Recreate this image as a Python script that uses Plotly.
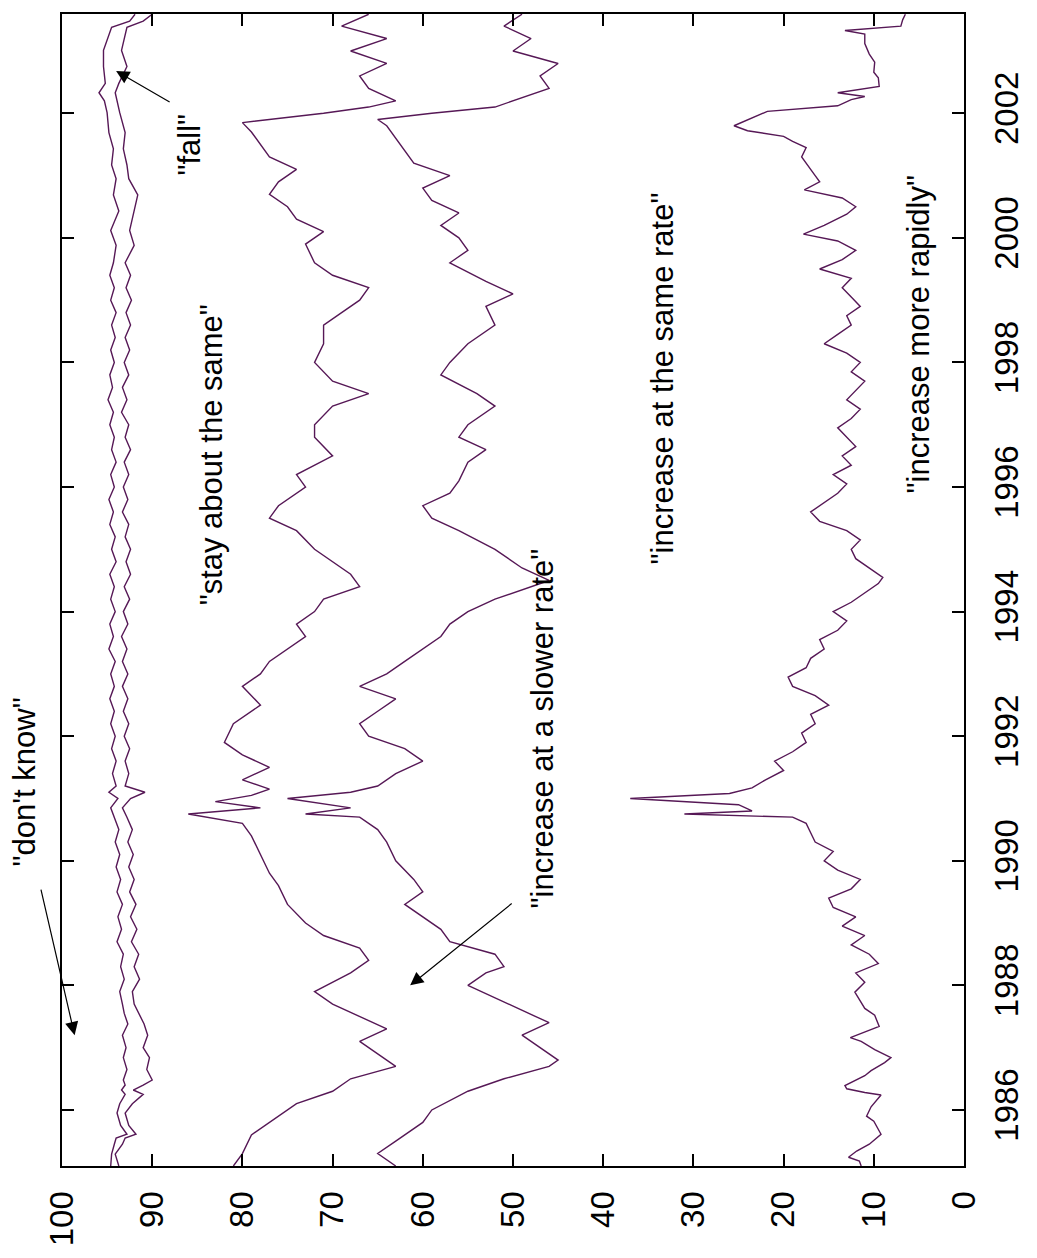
import plotly.graph_objects as go

# ---- data (value in percent, time in decimal years) ----
rapid_t = [1985.10,1985.18,1985.24,1985.34,1985.45,1985.61,1985.82,1985.90,1986.05,1986.24,1986.28,1986.34,1986.39,
           1986.55,1986.63,1986.76,1986.84,1986.97,1987.10,1987.16,1987.34,1987.52,1987.63,1987.89,
           1988.05,1988.20,1988.35,1988.50,1988.65,1988.80,1988.95,
           1989.10,1989.25,1989.40,1989.55,1989.70,1989.85,1990.00,1990.15,1990.30,1990.45,1990.60,1990.70,1990.75,1990.80,
           1990.90,1991.00,1991.08,1991.17,1991.30,1991.45,1991.60,1991.75,1991.90,1992.05,1992.20,1992.35,1992.50,1992.65,
           1992.80,1992.95,1993.10,1993.25,1993.40,1993.55,1993.70,1993.85,1994.00,1994.15,1994.30,1994.45,1994.55,1994.70,
           1994.85,1995.00,1995.15,1995.30,1995.45,1995.60,1995.75,1995.90,1996.05,1996.20,1996.35,1996.50,1996.65,1996.80,
           1996.95,1997.10,1997.25,1997.40,1997.55,1997.70,1997.85,1998.00,1998.15,1998.30,1998.45,1998.60,1998.75,1998.90,
           1999.05,1999.20,1999.35,1999.50,1999.65,1999.80,1999.95,2000.06,2000.20,2000.38,2000.50,2000.64,2000.77,2000.90,
           2001.00,2001.12,2001.30,2001.45,2001.55,2001.63,2001.72,2001.80,2001.95,2002.03,2002.12,2002.22,2002.27,2002.33,
           2002.43,2002.57,2002.66,2002.82,2002.95,2003.12,2003.27,2003.33,2003.40,2003.50,2003.59]
rapid_v = [11.4,11.6,12.8,11.9,10.5,9.2,10.0,10.8,10.3,9.2,11.0,13.0,13.2,
           11.0,10.3,8.8,8.1,9.9,11.4,12.6,9.4,9.9,11.0,12.1,
           11.0,12.0,9.5,10.5,12.5,11.0,13.5,
           12.0,14.5,15.0,12.5,11.5,14.0,15.5,14.5,16.5,17.0,17.5,19.0,31.0,23.5,
           25.0,37.0,26.0,23.5,22.0,20.0,21.0,19.0,17.5,18.0,16.5,17.0,15.0,16.5,
           19.0,19.5,17.5,17.0,15.5,16.0,14.0,13.0,14.5,12.5,11.0,9.5,9.0,10.5,
           12.0,12.5,11.5,13.0,16.0,17.0,15.5,14.0,13.0,14.5,12.5,13.5,12.0,13.0,
           14.0,12.5,11.5,13.0,12.0,11.0,12.5,11.5,13.0,15.5,14.0,12.5,13.0,11.5,
           12.5,13.5,12.5,16.0,13.5,12.0,14.0,17.8,15.5,13.0,12.0,13.5,17.7,16.0,
           16.5,17.1,18.0,17.5,19.0,20.0,24.0,25.5,23.0,21.8,14.0,12.5,11.0,14.0,
           9.4,9.5,10.0,9.9,10.5,11.0,11.0,13.2,7.0,6.8,6.5]

same_t = [1985.10,1985.30,1985.50,1985.80,1986.00,1986.30,1986.50,1986.70,1986.80,1987.00,1987.20,1987.40,1987.60,1987.80,
          1988.00,1988.20,1988.30,1988.50,1988.70,1988.90,1989.10,1989.30,1989.50,1989.70,1990.00,1990.30,1990.50,1990.70,
          1990.75,1990.85,1991.00,1991.10,1991.20,1991.40,1991.60,1991.80,1992.00,1992.20,1992.40,1992.60,1992.80,1993.00,
          1993.20,1993.40,1993.60,1993.80,1994.00,1994.20,1994.40,1994.50,1994.70,1995.00,1995.30,1995.50,1995.70,1995.90,
          1996.10,1996.40,1996.60,1996.80,1997.00,1997.30,1997.50,1997.80,1998.00,1998.30,1998.60,1998.90,1999.10,1999.30,
          1999.60,1999.80,2000.00,2000.20,2000.40,2000.60,2000.80,2001.00,2001.20,2001.40,2001.60,2001.80,2001.90,2002.00,
          2002.10,2002.20,2002.40,2002.60,2002.80,2003.00,2003.20,2003.40,2003.59]
same_v = [63,65,63,60,59,55,51,46,45,47,49,46,49,52,
          55,53,51,52,57,58,60,62,60,61,63,64,65,67,
          73,68,75,68,65,63,60,62,66,67,65,63,67,64,
          62,60,58,57,55,52,48,46,49,52,56,59,60,57,
          56,55,53,56,55,52,54,58,57,55,52,53,50,53,
          57,55,56,58,56,59,60,57,61,62,63,64,65,59,
          52,50,46,47,45,50,48,51,49]

slower_t = [1985.10,1985.30,1985.60,1985.90,1986.10,1986.30,1986.50,1986.70,1986.90,1987.10,1987.30,1987.50,1987.70,
            1987.90,1988.20,1988.40,1988.60,1988.80,1989.00,1989.30,1989.60,1989.80,1990.10,1990.40,1990.60,1990.75,
            1990.85,1990.95,1991.05,1991.15,1991.30,1991.50,1991.70,1991.90,1992.20,1992.50,1992.80,1993.00,1993.20,
            1993.40,1993.60,1993.80,1994.00,1994.20,1994.40,1994.60,1994.80,1995.00,1995.30,1995.50,1995.70,1996.00,
            1996.20,1996.50,1996.80,1997.00,1997.30,1997.50,1997.70,1998.00,1998.30,1998.60,1998.80,1999.00,1999.20,
            1999.40,1999.60,1999.90,2000.10,2000.30,2000.50,2000.70,2000.90,2001.10,2001.30,2001.50,2001.70,2001.85,
            2002.00,2002.10,2002.20,2002.40,2002.60,2002.80,2003.00,2003.20,2003.40,2003.59]
slower_v = [81,80,79,76,74,70,68,63,65,67,64,67,70,
            72,68,66,67,71,73,75,76,77,78,79,80,86,
            78,83,79,77,80,77,80,82,81,78,80,78,77,
            75,73,74,72,71,67,68,70,72,74,77,76,73,
            74,70,72,72,70,66,70,72,71,71,69,67,66,
            70,72,73,71,74,75,77,76,74,77,78,79,80,
            71,66,63,66,67,64,68,64,69,66]

top_t = [1985.10,1985.29,1985.45,1985.55,1985.61,1985.75,1985.95,1986.10,1986.25,1986.32,1986.40,1986.48,1986.65,
         1986.84,1987.00,1987.20,1987.38,1987.55,1987.70,1987.90,1988.10,1988.30,1988.50,1988.70,1988.90,1989.10,
         1989.30,1989.50,1989.70,1989.90,1990.10,1990.30,1990.50,1990.70,1990.85,1991.00,1991.10,1991.20,1991.40,
         1991.60,1991.80,1992.00,1992.20,1992.40,1992.60,1992.80,1993.00,1993.20,1993.40,1993.60,1993.80,1994.00,
         1994.20,1994.40,1994.60,1994.80,1995.00,1995.20,1995.40,1995.60,1995.80,1996.00,1996.20,1996.40,1996.60,
         1996.80,1997.00,1997.20,1997.40,1997.60,1997.80,1998.00,1998.20,1998.40,1998.60,1998.80,1999.00,1999.20,
         1999.40,1999.60,1999.88,2000.12,2000.43,2000.69,2000.95,2001.17,2001.43,2001.69,2002.01,2002.20,2002.33,
         2002.48,2002.75,2003.01,2003.27,2003.38,2003.48,2003.59]
fall_v = [94.6,94.5,94.2,94.0,92.8,93.5,93.9,93.6,93.0,93.4,93.0,93.2,92.8,
          93.2,92.9,93.3,92.7,93.1,93.3,93.6,93.1,93.5,93.2,93.9,93.4,93.8,
          93.3,93.9,93.5,94.0,93.6,94.1,93.7,94.2,94.6,93.8,94.8,94.0,94.4,
          94.0,94.5,94.1,94.6,94.2,94.7,94.2,94.6,94.1,94.8,94.3,94.7,94.1,
          94.6,94.2,94.7,94.0,94.5,94.1,94.7,94.3,94.8,94.2,94.6,94.0,94.5,
          94.2,94.7,94.3,94.9,94.4,94.7,94.2,94.6,94.1,94.5,94.0,94.6,94.2,
          94.7,94.3,94.0,94.6,93.7,94.3,94.0,94.5,94.3,94.8,95.0,95.3,95.9,
          95.2,95.4,95.4,94.8,94.5,92.5,91.9]
stay_v = [93.7,94.1,93.3,93.0,91.8,92.6,93.0,92.2,91.0,92.1,91.0,90.0,90.6,
          90.3,91.0,90.5,90.9,91.5,92.0,92.2,91.4,92.0,91.5,92.3,91.7,92.4,
          91.8,92.5,92.0,92.6,92.1,92.7,92.2,92.8,93.3,92.4,90.8,93.0,92.6,
          93.0,92.5,93.1,92.6,93.2,92.7,93.3,92.7,93.3,92.8,93.4,92.7,93.2,
          92.5,93.1,92.4,92.9,92.4,93.0,92.6,93.3,92.7,93.2,92.6,93.1,92.4,
          93.0,92.6,93.4,92.8,93.3,92.6,93.1,92.5,93.0,92.4,92.9,92.3,92.9,
          92.4,93.0,92.0,92.5,92.0,91.6,92.6,92.8,93.2,93.0,93.6,93.9,94.1,
          93.7,92.8,93.4,93.0,92.8,91.0,90.0]

value_ticks = list(range(0, 101, 10))
year_ticks = list(range(1986, 2003, 2))

LINE = "#561856"
FONT = "Liberation Sans, Arial, sans-serif"

fig = go.Figure()
for t, v in [(rapid_t, rapid_v), (same_t, same_v), (slower_t, slower_v),
             (top_t, stay_v), (top_t, fall_v)]:
    fig.add_trace(go.Scatter(x=v, y=t, mode="lines",
                             line=dict(color=LINE, width=1.4),
                             hoverinfo="skip", showlegend=False))

axis_common = dict(showgrid=False, zeroline=False, showline=True,
                   linecolor="black", linewidth=2, mirror="ticks",
                   ticks="inside", ticklen=12, tickwidth=2, tickcolor="black",
                   tickangle=-90, tickfont=dict(family=FONT, size=33, color="black"))

fig.update_layout(
    width=1037, height=1258,
    margin=dict(l=62, r=48, t=13, b=73),
    paper_bgcolor="white", plot_bgcolor="white",
    showlegend=False,
    xaxis=dict(range=[100, 0], tickvals=value_ticks,
               ticktext=[str(v) for v in value_ticks],
               ticklabelstandoff=10, **axis_common),
    yaxis=dict(range=[1985.10, 2003.594], side="right", tickvals=year_ticks,
               ticktext=[str(y) for y in year_ticks],
               ticklabelstandoff=12, **axis_common),
)

# label outside the plotting area (paper coordinates)
fig.add_annotation(x=-0.042, y=0.333, xref="paper", yref="paper",
                   text='"don\'t know"', showarrow=False, textangle=-90,
                   xanchor="center", yanchor="middle",
                   font=dict(family=FONT, size=31, color="black"))

labels = [
    ('"fall"', 85.9, 2001.5),
    ('"stay about the same"', 83.4, 1996.52),
    ('"increase at a slower rate"', 46.7, 1992.12),
    ('"increase at the same rate"', 33.4, 1997.74),
    ('"increase more rapidly"', 5.1, 1998.45),
]
for txt, xv, yv in labels:
    fig.add_annotation(x=xv, y=yv, xref="x", yref="y", text=txt, showarrow=False,
                       textangle=-90, xanchor="center", yanchor="middle",
                       font=dict(family=FONT, size=31, color="black"))

arrows = [
    (98.6, 1987.2, -34, -147),
    (94.0, 2002.68, 55, 32),
    (61.4, 1988.0, 103, -83),
]
for xv, yv, ax, ay in arrows:
    fig.add_annotation(x=xv, y=yv, xref="x", yref="y", text="", showarrow=True,
                       ax=ax, ay=ay, axref="pixel", ayref="pixel",
                       arrowhead=2, arrowsize=2.2, arrowwidth=1.2, arrowcolor="black")

fig.write_html("out.html")
